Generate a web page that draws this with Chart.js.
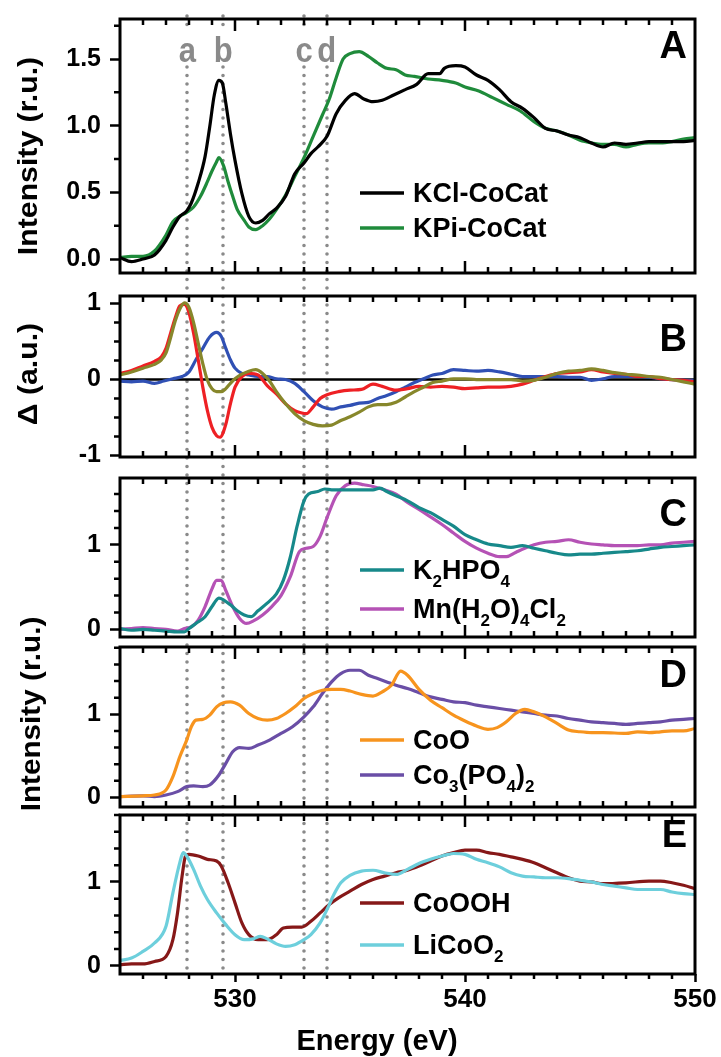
<!DOCTYPE html>
<html lang="en">
<head>
<meta charset="utf-8">
<title>O K-edge spectra</title>
<script src="https://cdn.jsdelivr.net/npm/chart.js@4.4.1/dist/chart.umd.min.js"></script>
<style>
  html, body { margin: 0; padding: 0; background: #fff; }
  #figure { position: relative; width: 721px; height: 1057px; overflow: hidden; }
  #figure canvas { position: absolute; left: 0; top: 0; }
</style>
</head>
<body>
<div id="figure">
  <canvas id="panelA" width="721" height="1057"></canvas>
  <canvas id="panelB" width="721" height="1057"></canvas>
  <canvas id="panelC" width="721" height="1057"></canvas>
  <canvas id="panelD" width="721" height="1057"></canvas>
  <canvas id="panelE" width="721" height="1057"></canvas>
</div>
<script>
// ---- data (energy in eV, intensity in r.u. / difference in a.u.) ----

// A: catalyst films
const kclE = [525, 525.5, 526, 526.5, 527, 527.3, 527.6, 527.9, 528.1, 528.4, 528.7, 528.9, 529.1, 529.3, 529.45, 529.6, 529.8, 530, 530.3, 530.6, 530.9, 531.2, 531.5, 531.8, 532.2, 532.6, 533, 533.3, 533.6, 534, 534.4, 534.8, 535.2, 535.6, 536, 536.4, 536.9, 537.4, 537.9, 538.4, 538.9, 539.1, 539.6, 540, 540.5, 541, 541.5, 542, 542.5, 543, 543.5, 544, 544.5, 545, 545.5, 546, 546.5, 547, 547.5, 548, 548.5, 549, 549.5, 550];
const kclI = [0.01, -0.02, 0.0, 0.03, 0.14, 0.24, 0.32, 0.36, 0.42, 0.57, 0.77, 0.99, 1.23, 1.34, 1.32, 1.17, 0.94, 0.74, 0.49, 0.32, 0.27, 0.29, 0.34, 0.38, 0.47, 0.64, 0.72, 0.79, 0.84, 0.92, 1.09, 1.19, 1.24, 1.2, 1.18, 1.19, 1.23, 1.27, 1.31, 1.39, 1.39, 1.43, 1.45, 1.44, 1.38, 1.34, 1.27, 1.18, 1.13, 1.06, 0.98, 0.96, 0.93, 0.91, 0.87, 0.84, 0.87, 0.86, 0.87, 0.88, 0.88, 0.88, 0.88, 0.89];
const kpiE = [525, 525.5, 526, 526.5, 527, 527.3, 527.6, 527.9, 528.2, 528.5, 528.8, 529.0, 529.2, 529.3, 529.5, 529.7, 529.9, 530.1, 530.4, 530.6, 530.9, 531.2, 531.5, 531.8, 532.2, 532.6, 533, 533.4, 533.8, 534.1, 534.4, 534.7, 535.0, 535.4, 535.8, 536.2, 536.6, 537, 537.4, 537.8, 538.4, 539, 539.6, 540, 540.6, 541.2, 541.8, 542.4, 543, 543.5, 544, 544.5, 545, 545.5, 546, 546.5, 547, 547.5, 548, 548.5, 549, 549.5, 550];
const kpiI = [0.01, 0.02, 0.02, 0.06, 0.18, 0.28, 0.32, 0.35, 0.39, 0.47, 0.58, 0.66, 0.73, 0.76, 0.70, 0.58, 0.47, 0.37, 0.29, 0.24, 0.22, 0.25, 0.30, 0.37, 0.48, 0.62, 0.76, 0.92, 1.08, 1.20, 1.36, 1.50, 1.54, 1.555, 1.52, 1.47, 1.43, 1.42, 1.38, 1.37, 1.35, 1.34, 1.32, 1.29, 1.26, 1.21, 1.16, 1.11, 1.03, 0.98, 0.96, 0.93, 0.89, 0.87, 0.86, 0.86, 0.84, 0.86, 0.87, 0.87, 0.88, 0.90, 0.91];

// B: difference spectra
const deltaRedE = [525, 525.5, 526, 526.5, 526.8, 527, 527.2, 527.4, 527.6, 527.8, 528.0, 528.2, 528.4, 528.6, 528.8, 529.0, 529.2, 529.35, 529.6, 529.8, 530, 530.3, 530.6, 531, 531.4, 531.8, 532.2, 532.6, 532.9, 533.1, 533.4, 533.7, 534, 534.5, 535, 535.5, 536, 536.4, 537, 537.5, 538, 538.5, 539, 539.5, 540, 540.5, 541, 541.5, 542, 542.5, 543, 543.5, 544, 544.5, 545, 545.5, 546, 546.5, 547, 547.5, 548, 548.5, 549, 549.5, 550];
const deltaRed = [0.08, 0.12, 0.18, 0.24, 0.30, 0.41, 0.61, 0.81, 0.97, 0.99, 0.88, 0.61, 0.26, -0.10, -0.41, -0.63, -0.74, -0.76, -0.59, -0.32, -0.10, 0.04, 0.08, 0.06, -0.08, -0.19, -0.32, -0.41, -0.44, -0.45, -0.36, -0.25, -0.20, -0.16, -0.14, -0.13, -0.06, -0.09, -0.14, -0.12, -0.09, -0.10, -0.09, -0.10, -0.12, -0.11, -0.10, -0.10, -0.09, -0.06, -0.01, 0.04, 0.08, 0.09, 0.10, 0.13, 0.10, 0.08, 0.07, 0.04, 0.04, 0.01, 0.0, -0.01, -0.03];
const deltaOliveE = [525, 525.5, 526, 526.5, 526.8, 527.0, 527.2, 527.4, 527.6, 527.8, 528.0, 528.2, 528.4, 528.6, 528.8, 529.0, 529.2, 529.4, 529.6, 529.8, 530.0, 530.3, 530.6, 530.9, 531.2, 531.5, 531.8, 532.2, 532.6, 533.0, 533.4, 533.8, 534.2, 534.6, 535, 535.4, 535.8, 536.2, 536.6, 537, 537.4, 537.8, 538.2, 538.6, 539, 539.5, 540, 540.5, 541, 541.5, 542, 542.5, 543, 543.5, 544, 544.5, 545, 545.5, 546, 546.5, 547, 547.5, 548, 548.5, 549, 549.5, 550];
const deltaOlive = [0.06, 0.10, 0.15, 0.20, 0.26, 0.35, 0.55, 0.77, 0.93, 1.01, 0.95, 0.75, 0.48, 0.21, -0.01, -0.12, -0.16, -0.16, -0.12, -0.05, 0.01, 0.07, 0.11, 0.13, 0.08, -0.02, -0.16, -0.32, -0.45, -0.54, -0.59, -0.61, -0.60, -0.54, -0.49, -0.43, -0.36, -0.33, -0.33, -0.30, -0.23, -0.16, -0.10, -0.04, -0.02, 0.01, 0.01, 0.0, 0.0, 0.0, 0.0, -0.02, -0.01, 0.03, 0.08, 0.11, 0.12, 0.14, 0.12, 0.09, 0.07, 0.06, 0.04, 0.03, 0.0, -0.03, -0.06];
const deltaBlueE = [525, 525.5, 526, 526.5, 526.9, 527.3, 527.7, 528.0, 528.3, 528.6, 528.9, 529.2, 529.4, 529.6, 529.8, 530.0, 530.3, 530.6, 531.0, 531.4, 531.8, 532.2, 532.6, 533.0, 533.4, 533.8, 534.2, 534.6, 535, 535.4, 535.8, 536.2, 536.6, 537, 537.4, 537.8, 538.2, 538.6, 539, 539.5, 540, 540.5, 541, 541.5, 542, 542.5, 543, 543.5, 544, 544.5, 545, 545.5, 546, 546.5, 547, 547.5, 548, 548.5, 549, 549.5, 550];
const deltaBlue = [-0.02, -0.03, -0.02, -0.05, -0.02, 0.01, 0.04, 0.10, 0.26, 0.41, 0.56, 0.62, 0.57, 0.41, 0.26, 0.15, 0.08, 0.06, 0.04, 0.04, 0.01, 0.0, -0.05, -0.16, -0.28, -0.36, -0.39, -0.36, -0.34, -0.31, -0.30, -0.25, -0.21, -0.16, -0.10, -0.04, 0.01, 0.06, 0.08, 0.13, 0.12, 0.11, 0.12, 0.10, 0.07, 0.04, 0.04, 0.04, 0.04, 0.03, 0.03, -0.01, 0.01, 0.04, 0.04, 0.04, 0.03, 0.01, 0.0, -0.01, -0.01];

// C: phosphate / chloride references
const k2hpoE = [525, 525.5, 526, 526.5, 527, 527.5, 527.8, 528.0, 528.3, 528.7, 529.0, 529.3, 529.5, 529.8, 530.1, 530.4, 530.7, 531.0, 531.4, 531.8, 532.1, 532.4, 532.7, 533.0, 533.2, 533.6, 533.9, 534.2, 534.6, 535, 535.5, 536, 536.3, 536.6, 537, 537.5, 538, 538.5, 539, 539.5, 540, 540.5, 541, 541.5, 542, 542.5, 543, 543.5, 544, 544.5, 545, 545.5, 546, 546.5, 547, 547.5, 548, 548.5, 549, 549.5, 550];
const k2hpoI = [0.01, -0.01, 0.0, -0.01, -0.02, -0.03, -0.03, 0.01, 0.07, 0.15, 0.27, 0.37, 0.35, 0.29, 0.22, 0.17, 0.15, 0.22, 0.31, 0.42, 0.58, 0.85, 1.22, 1.52, 1.60, 1.63, 1.66, 1.65, 1.65, 1.65, 1.65, 1.65, 1.67, 1.63, 1.58, 1.52, 1.44, 1.38, 1.30, 1.22, 1.12, 1.06, 1.01, 0.99, 0.97, 0.99, 0.96, 0.93, 0.90, 0.88, 0.89, 0.89, 0.90, 0.91, 0.92, 0.93, 0.95, 0.97, 0.98, 0.99, 1.0];
const mnClE = [525, 525.5, 526, 526.5, 527, 527.5, 527.8, 528.1, 528.4, 528.7, 529.0, 529.2, 529.4, 529.6, 529.9, 530.2, 530.5, 530.8, 531.2, 531.6, 532.0, 532.4, 532.8, 533.1, 533.4, 533.7, 534.0, 534.4, 534.8, 535.2, 535.6, 536, 536.5, 537, 537.5, 538, 538.5, 539, 539.5, 540, 540.5, 541, 541.5, 541.8, 542.2, 542.6, 543, 543.5, 544, 544.5, 545, 545.5, 546, 546.5, 547, 547.5, 548, 548.5, 549, 549.5, 550];
const mnClI = [0.0, 0.01, 0.02, 0.01, 0.0, -0.02, 0.01, 0.03, 0.11, 0.27, 0.48, 0.58, 0.58, 0.46, 0.27, 0.13, 0.07, 0.10, 0.17, 0.27, 0.40, 0.62, 0.92, 0.96, 0.98, 1.10, 1.32, 1.58, 1.70, 1.73, 1.71, 1.69, 1.65, 1.60, 1.50, 1.42, 1.33, 1.24, 1.14, 1.04, 0.96, 0.90, 0.86, 0.86, 0.91, 0.96, 1.0, 1.03, 1.04, 1.06, 1.03, 1.01, 1.0, 0.99, 0.99, 0.99, 1.0, 1.0, 1.02, 1.03, 1.04];

// D: cobalt oxide / phosphate references
const cooE = [525, 526, 526.5, 527.0, 527.3, 527.6, 527.9, 528.1, 528.3, 528.6, 528.9, 529.2, 529.5, 529.8, 530.2, 530.6, 531.0, 531.4, 531.8, 532.2, 532.6, 533.0, 533.4, 533.8, 534.2, 534.6, 535, 535.5, 536, 536.4, 536.8, 537.2, 537.5, 538, 538.5, 539, 539.5, 540, 540.5, 541, 541.4, 541.8, 542.2, 542.6, 543, 543.5, 544, 544.5, 545, 545.5, 546, 547, 547.5, 548, 548.5, 549, 549.5, 550];
const cooI = [0.01, 0.02, 0.03, 0.09, 0.25, 0.49, 0.69, 0.85, 0.93, 0.94, 0.99, 1.09, 1.14, 1.15, 1.11, 1.01, 0.95, 0.93, 0.95, 1.01, 1.09, 1.19, 1.25, 1.29, 1.30, 1.30, 1.28, 1.24, 1.22, 1.27, 1.35, 1.52, 1.47, 1.30, 1.17, 1.08, 0.99, 0.92, 0.86, 0.82, 0.84, 0.91, 1.01, 1.06, 1.03, 0.97, 0.89, 0.81, 0.79, 0.78, 0.78, 0.77, 0.79, 0.78, 0.79, 0.80, 0.80, 0.83];
const copoE = [525, 526, 526.5, 527, 527.5, 527.9, 528.2, 528.6, 528.9, 529.3, 529.6, 529.9, 530.2, 530.6, 531.0, 531.5, 532, 532.5, 533, 533.4, 533.8, 534.2, 534.6, 535, 535.4, 535.8, 536.2, 536.6, 537, 537.5, 538, 538.5, 539, 539.5, 540, 540.5, 541, 541.5, 542, 542.5, 543, 543.5, 544, 544.5, 545, 545.5, 546, 546.5, 547, 547.5, 548, 548.5, 549, 549.5, 550];
const copoI = [0.01, 0.02, 0.01, 0.03, 0.07, 0.13, 0.14, 0.13, 0.15, 0.27, 0.41, 0.55, 0.60, 0.59, 0.63, 0.69, 0.77, 0.85, 0.97, 1.09, 1.25, 1.39, 1.49, 1.53, 1.53, 1.47, 1.43, 1.39, 1.35, 1.31, 1.26, 1.21, 1.18, 1.15, 1.14, 1.11, 1.09, 1.07, 1.05, 1.03, 1.01, 0.99, 0.98, 0.95, 0.93, 0.91, 0.90, 0.89, 0.88, 0.89, 0.90, 0.91, 0.93, 0.94, 0.95];

// E: Co(III) references
const coohE = [525, 525.5, 526, 526.5, 527, 527.3, 527.5, 527.7, 527.85, 528.0, 528.4, 528.8, 529.2, 529.4, 529.7, 530.0, 530.3, 530.6, 531.0, 531.4, 531.8, 532.1, 532.5, 532.9, 533.3, 533.7, 534.1, 534.5, 535, 535.5, 536, 536.5, 537, 537.5, 538, 538.5, 539, 539.5, 540, 540.5, 541, 541.5, 542, 542.5, 543, 543.5, 544, 544.5, 545, 545.5, 546, 547, 548, 548.5, 549, 549.5, 550];
const coohI = [0.01, 0.02, 0.02, 0.05, 0.11, 0.31, 0.63, 1.07, 1.31, 1.33, 1.31, 1.27, 1.25, 1.19, 0.99, 0.75, 0.51, 0.37, 0.31, 0.31, 0.37, 0.45, 0.46, 0.46, 0.53, 0.63, 0.73, 0.81, 0.89, 0.97, 1.03, 1.07, 1.11, 1.14, 1.19, 1.25, 1.31, 1.35, 1.38, 1.38, 1.35, 1.33, 1.30, 1.27, 1.23, 1.17, 1.11, 1.05, 1.01, 1.00, 0.98, 0.99, 1.01, 1.01, 0.99, 0.96, 0.92];
const licooE = [525, 525.5, 526, 526.5, 527, 527.3, 527.6, 527.75, 527.9, 528.2, 528.5, 528.8, 529.2, 529.6, 530.0, 530.4, 530.8, 531.1, 531.4, 531.8, 532.2, 532.6, 533.0, 533.3, 533.7, 534.0, 534.3, 534.6, 535.0, 535.5, 536, 536.5, 537, 537.5, 538, 538.5, 539, 539.5, 540, 540.5, 541, 541.5, 542, 542.5, 543, 543.5, 544, 544.5, 545, 545.5, 546, 546.5, 547, 547.5, 548, 548.5, 549, 549.5, 550];
const licooI = [0.06, 0.09, 0.17, 0.27, 0.47, 0.87, 1.23, 1.35, 1.31, 1.15, 0.95, 0.79, 0.63, 0.49, 0.37, 0.31, 0.32, 0.35, 0.32, 0.26, 0.23, 0.25, 0.31, 0.37, 0.51, 0.67, 0.85, 0.99, 1.08, 1.13, 1.14, 1.11, 1.09, 1.15, 1.22, 1.27, 1.31, 1.34, 1.33, 1.27, 1.23, 1.18, 1.11, 1.07, 1.06, 1.05, 1.05, 1.04, 1.02, 1.00, 0.97, 0.95, 0.93, 0.91, 0.91, 0.91, 0.88, 0.86, 0.85];

// guide lines a-d
const markerNames = ['a', 'b', 'c', 'd'];
const markerEnergy = [527.93, 529.49, 533.0, 533.99];

// x axis labels
const energyTicks = [530, 540, 550];

// ---- layout ----
const PAGE_W = 721, PAGE_H = 1057;
const PLOT_L = 120, PLOT_R = 695;
const FONT = "'Liberation Sans', Arial, Helvetica, sans-serif";
const GUIDE_GREY = '#8a8a8a';
const SUBS = '₀₁₂₃₄₅₆₇₈₉';

Chart.defaults.font.family = FONT;
Chart.defaults.color = '#000';

// draws a label, turning unicode subscript digits into small lowered digits
function richText(ctx, text, x, y, size) {
  const runs = [];
  for (const ch of text) {
    const k = SUBS.indexOf(ch);
    const sub = k >= 0;
    const c = sub ? String(k) : ch;
    if (runs.length && runs[runs.length - 1].sub === sub) runs[runs.length - 1].t += c;
    else runs.push({ sub, t: c });
  }
  let cx = x;
  for (const r of runs) {
    ctx.font = `bold ${r.sub ? Math.round(size * 0.62) : size}px ${FONT}`;
    ctx.fillText(r.t, cx, r.sub ? y + size * 0.3 : y);
    cx += ctx.measureText(r.t).width;
  }
}

function isMultiple(v, step) {
  const q = v / step;
  return Math.abs(q - Math.round(q)) < 1e-6;
}

const panelDeco = {
  id: 'panelDeco',
  beforeDatasetsDraw(chart, args, o) {
    const { ctx, chartArea: a } = chart;
    const x = chart.scales.x, y = chart.scales.y;
    ctx.save();
    if (o.zeroLine) {
      const py = y.getPixelForValue(0);
      ctx.strokeStyle = '#000';
      ctx.lineWidth = 2.5;
      ctx.beginPath();
      ctx.moveTo(a.left, py);
      ctx.lineTo(a.right, py);
      ctx.stroke();
    }
    if (o.markers) {
      // dotted guides run down through every panel
      ctx.strokeStyle = GUIDE_GREY;
      ctx.lineWidth = 3.6;
      ctx.lineCap = 'round';
      ctx.setLineDash([0, o.markers.step]);
      markerEnergy.forEach(e => {
        const px = Math.round(x.getPixelForValue(e));
        o.markers.spans.forEach(([y0, y1]) => {
          ctx.beginPath();
          ctx.moveTo(px, y0);
          ctx.lineTo(px, y1);
          ctx.stroke();
        });
      });
      ctx.setLineDash([]);
      ctx.fillStyle = GUIDE_GREY;
      ctx.font = `bold 31px ${FONT}`;
      ctx.textAlign = 'center';
      ctx.textBaseline = 'alphabetic';
      markerNames.forEach((n, i) => {
        ctx.save();
        ctx.translate(x.getPixelForValue(markerEnergy[i]), o.markers.labelY);
        ctx.scale(1, 1.12);
        ctx.fillText(n, 0, 0);
        ctx.restore();
      });
    }
    ctx.restore();
  },
  afterDraw(chart, args, o) {
    const { ctx, chartArea: a } = chart;
    const x = chart.scales.x, y = chart.scales.y;
    ctx.save();
    ctx.strokeStyle = '#000';
    ctx.lineWidth = 2.5;
    ctx.lineCap = 'butt';

    // minor y ticks, outside
    ctx.beginPath();
    for (let k = Math.ceil(y.min / o.yMinor - 1e-6); k * o.yMinor <= y.max + 1e-6; k++) {
      const v = k * o.yMinor;
      if (isMultiple(v, o.yMajor)) continue;
      const py = y.getPixelForValue(v);
      ctx.moveTo(a.left - 6, py);
      ctx.lineTo(a.left, py);
    }
    // energy ticks every 1 eV, pointing inwards (outwards on the labelled axis)
    for (let e = 526; e < 550; e++) {
      const px = x.getPixelForValue(e);
      const len = e % 10 === 0 ? 12 : 6;
      ctx.moveTo(px, a.top);
      ctx.lineTo(px, a.top + len);
      if (o.outerTicks) {
        if (e % 10 !== 0) {
          ctx.moveTo(px, a.bottom);
          ctx.lineTo(px, a.bottom + 5);
        }
      } else {
        ctx.moveTo(px, a.bottom);
        ctx.lineTo(px, a.bottom - len);
      }
    }
    ctx.stroke();

    // frame
    ctx.lineWidth = 3;
    ctx.strokeRect(a.left, a.top, a.right - a.left, a.bottom - a.top);

    // panel letter
    ctx.fillStyle = '#000';
    ctx.font = `bold 38px ${FONT}`;
    ctx.textAlign = 'right';
    ctx.textBaseline = 'alphabetic';
    ctx.fillText(o.letter, a.right - 8, o.letterY);

    // legend
    if (o.legend) {
      chart.data.datasets.forEach((ds, i) => {
        const ly = o.legend.rows[i];
        ctx.strokeStyle = ds.borderColor;
        ctx.lineWidth = 3.5;
        ctx.beginPath();
        ctx.moveTo(o.legend.x, ly);
        ctx.lineTo(o.legend.x + 44, ly);
        ctx.stroke();
        ctx.fillStyle = '#000';
        ctx.textAlign = 'left';
        richText(ctx, ds.label, o.legend.x + 53, ly + 9, 27);
      });
    }

    // axis titles
    (o.titles || []).forEach(t => {
      ctx.save();
      ctx.fillStyle = '#000';
      ctx.font = `bold ${t.size}px ${FONT}`;
      ctx.textAlign = 'center';
      ctx.textBaseline = 'alphabetic';
      ctx.translate(t.x, t.y);
      if (t.rotate) ctx.rotate(-Math.PI / 2);
      ctx.scale(t.stretch || 1, 1);
      ctx.fillText(t.text, 0, 0);
      ctx.restore();
    });
    ctx.restore();
  }
};

function makePanel(id, p) {
  const labelled = !!p.energyAxis;
  return new Chart(document.getElementById(id), {
    type: 'line',
    data: {
      datasets: p.series.map(s => ({
        label: s.label,
        data: s.e.map((e, i) => ({ x: e, y: s.v[i] })),
        borderColor: s.color,
        borderWidth: 3.2,
        pointRadius: 0,
        fill: false,
        cubicInterpolationMode: 'monotone',
        order: s.order || 0
      }))
    },
    options: {
      responsive: false,
      animation: false,
      events: [],
      layout: { padding: { top: p.top, bottom: labelled ? 0 : PAGE_H - p.bottom, left: 0, right: PAGE_W - PLOT_R } },
      plugins: {
        legend: { display: false },
        tooltip: { enabled: false },
        panelDeco: Object.assign({ yMajor: p.yMajor, yMinor: p.yMinor, outerTicks: labelled }, p.deco)
      },
      scales: {
        x: {
          type: 'linear',
          min: 525,
          max: 550,
          display: labelled,
          afterBuildTicks: s => { s.ticks = energyTicks.map(v => ({ value: v })); },
          ticks: { autoSkip: false, maxRotation: 0, padding: 2, font: { size: 26, weight: 'bold' }, color: '#000' },
          grid: { drawOnChartArea: false, tickLength: 8, tickWidth: 2.5, tickColor: '#000' },
          border: { display: false },
          afterFit: s => {
            if (!labelled) return;
            s.height = PAGE_H - p.bottom;
            s.paddingLeft = 0;
            s.paddingRight = 0;
          }
        },
        y: {
          type: 'linear',
          min: p.yMin,
          max: p.yMax,
          afterBuildTicks: s => { s.ticks = p.yTicks.map(v => ({ value: v })); },
          ticks: { autoSkip: false, padding: 9, font: { size: 25, weight: 'bold' }, color: '#000', callback: p.fmt },
          grid: { drawOnChartArea: false, tickLength: 10, tickWidth: 2.5, tickColor: '#000' },
          border: { display: false },
          afterFit: s => { s.width = PLOT_L; s.paddingTop = 0; s.paddingBottom = 0; }
        }
      }
    },
    plugins: [panelDeco]
  });
}

const oneDecimal = v => v.toFixed(1);
const whole = v => String(v);

makePanel('panelA', {
  top: 19, bottom: 273, yMin: -0.105, yMax: 1.8,
  yTicks: [0, 0.5, 1, 1.5], yMajor: 0.5, yMinor: 0.25, fmt: oneDecimal,
  series: [
    { label: 'KCl-CoCat', e: kclE, v: kclI, color: '#000000' },
    { label: 'KPi-CoCat', e: kpiE, v: kpiI, color: '#1f8b3b' }
  ],
  deco: {
    letter: 'A', letterY: 58,
    legend: { x: 360, rows: [193, 228] },
    markers: { step: 8.5, spans: [[16, 30], [67, 974]], labelY: 62 },
    titles: [{ text: 'Intensity (r.u.)', x: 37, y: 156, size: 27, rotate: true, stretch: 1.12 }]
  }
});

makePanel('panelB', {
  top: 296, bottom: 457, yMin: -1.02, yMax: 1.1,
  yTicks: [-1, 0, 1], yMajor: 1, yMinor: 0.25, fmt: whole,
  series: [
    { e: deltaOliveE, v: deltaOlive, color: '#87872b', label: '' },
    { e: deltaRedE, v: deltaRed, color: '#ee2024', label: '' },
    { e: deltaBlueE, v: deltaBlue, color: '#3050b4', label: '' }
  ],
  deco: {
    letter: 'B', letterY: 351, zeroLine: true,
    titles: [{ text: 'Δ (a.u.)', x: 37, y: 374, size: 27, rotate: true, stretch: 1.12 }]
  }
});

makePanel('panelC', {
  top: 478, bottom: 637, yMin: -0.09, yMax: 1.79,
  yTicks: [0, 1], yMajor: 1, yMinor: 0.2, fmt: whole,
  series: [
    { label: 'K₂HPO₄', e: k2hpoE, v: k2hpoI, color: '#17898a' },
    { label: 'Mn(H₂O)₄Cl₂', e: mnClE, v: mnClI, color: '#b552b5' }
  ],
  deco: { letter: 'C', letterY: 526, legend: { x: 360, rows: [570, 609] } }
});

makePanel('panelD', {
  top: 647, bottom: 807, yMin: -0.115, yMax: 1.81,
  yTicks: [0, 1], yMajor: 1, yMinor: 0.2, fmt: whole,
  series: [
    { label: 'CoO', e: cooE, v: cooI, color: '#f7941e' },
    { label: 'Co₃(PO₄)₂', e: copoE, v: copoI, color: '#6a4ea6' }
  ],
  deco: {
    letter: 'D', letterY: 687, legend: { x: 360, rows: [740, 775] },
    titles: [{ text: 'Intensity (r.u.)', x: 40, y: 714, size: 27, rotate: true, stretch: 1.1 }]
  }
});

makePanel('panelE', {
  top: 815, bottom: 974, yMin: -0.1, yMax: 1.8, energyAxis: true,
  yTicks: [0, 1], yMajor: 1, yMinor: 0.2, fmt: whole,
  series: [
    { label: 'CoOOH', e: coohE, v: coohI, color: '#861818', order: 1 },
    { label: 'LiCoO₂', e: licooE, v: licooI, color: '#6dcfdc', order: 0 }
  ],
  deco: {
    letter: 'E', letterY: 847, legend: { x: 360, rows: [903, 945] },
    titles: [{ text: 'Energy (eV)', x: 377, y: 1050, size: 29 }]
  }
});
</script>
</body>
</html>
